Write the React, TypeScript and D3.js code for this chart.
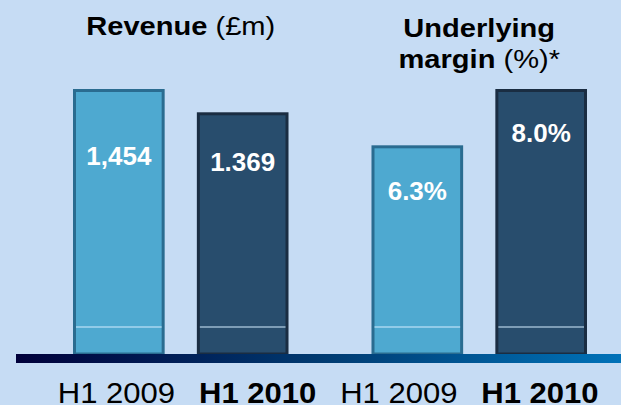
import React from "react";
import * as d3 from "d3";

const W = 621;
const H = 405;

// Data
const groups = ["Revenue", "Margin"];
const periods = ["H1 2009", "H1 2010"];
const revenueValues = [1454, 1369];
const revenueLabels = ["1,454", "1.369"];
const marginValues = [6.3, 8.0];
const marginLabels = ["6.3%", "8.0%"];
const xTickLabels = ["H1 2009", "H1 2010", "H1 2009", "H1 2010"];
const xTickBold = [false, true, false, true];

// Scales domains
const revenueDomain = [487, 1454];
const marginDomain = [0, 8];

const FONT = "'Liberation Sans', Arial, Helvetica, sans-serif";
const BG = "#C6DCF4";
const FILL = ["#4EA9D0", "#284D6D"];
const STROKE = ["#2A6C90", "#1A2D42"];
const labelDy = [76, 59, 55, 53];

function Stretch({ cx, sx, children }: { cx: number; sx: number; children: React.ReactNode }) {
  return <g transform={`translate(${cx},0) scale(${sx},1) translate(${-cx},0)`}>{children}</g>;
}

export default function App() {
  const baseY = 354;
  const topY = 89;
  const outer = d3.scaleBand<string>().domain(groups).range([73, 587]).paddingInner(0.278).paddingOuter(0);
  const inner = d3.scaleBand<string>().domain(periods).range([0, outer.bandwidth()]).paddingInner(0.26).paddingOuter(0);
  const yRev = d3.scaleLinear().domain(revenueDomain).range([baseY, topY]);
  const yMar = d3.scaleLinear().domain(marginDomain).range([baseY, topY]);
  const xLab = d3.scalePoint<number>().domain(d3.range(xTickLabels.length)).range([116.5, 540]);

  const bars: { x: number; w: number; y: number; label: string; i: number }[] = [];
  groups.forEach((g, gi) => {
    periods.forEach((p, pi) => {
      const v = gi === 0 ? revenueValues[pi] : marginValues[pi];
      const y = gi === 0 ? yRev(v) : yMar(v);
      bars.push({
        x: (outer(g) as number) + (inner(p) as number),
        w: inner.bandwidth(),
        y,
        label: gi === 0 ? revenueLabels[pi] : marginLabels[pi],
        i: pi,
      });
    });
  });

  const sw = 3;
  const g1c = (outer(groups[0]) as number) + outer.bandwidth() / 2;
  const g2c = (outer(groups[1]) as number) + outer.bandwidth() / 2;
  const titleSize = 25.5;
  const titleSx = 1.14;

  return (
    <svg
      width={W}
      height={H}
      style={{ position: "absolute", left: 0, top: 0, display: "block" }}
      fontFamily={FONT}
    >
      <defs>
        <linearGradient id="baseGrad" x1="0" x2="1" y1="0" y2="0">
          <stop offset="0" stopColor="#00003A" />
          <stop offset="0.5" stopColor="#003A70" />
          <stop offset="1" stopColor="#0072B8" />
        </linearGradient>
      </defs>
      <rect x={0} y={0} width={W} height={H} fill={BG} />

      {/* Titles */}
      <Stretch cx={g1c} sx={titleSx}>
        <text x={g1c} y={35} textAnchor="middle" fontSize={titleSize} fill="#000">
          <tspan fontWeight="bold">Revenue</tspan>
          <tspan> (£m)</tspan>
        </text>
      </Stretch>
      <Stretch cx={g2c} sx={titleSx}>
        <text x={g2c} y={37} textAnchor="middle" fontSize={titleSize} fill="#000" fontWeight="bold">
          Underlying
        </text>
        <text x={g2c} y={68} textAnchor="middle" fontSize={titleSize} fill="#000">
          <tspan fontWeight="bold">margin</tspan>
          <tspan> (%)*</tspan>
        </text>
      </Stretch>

      {/* Bars */}
      {bars.map((b, k) => (
        <g key={k}>
          <rect
            x={b.x + sw / 2}
            y={b.y + sw / 2}
            width={b.w - sw}
            height={baseY - b.y - sw / 2}
            fill={FILL[b.i]}
            stroke={STROKE[b.i]}
            strokeWidth={sw}
          />
          <line
            x1={b.x + sw}
            x2={b.x + b.w - sw}
            y1={327}
            y2={327}
            stroke="#D4EEFF"
            strokeWidth={1.2}
          />
          <Stretch cx={b.x + b.w / 2} sx={1.04}>
            <text
              x={b.x + b.w / 2}
              y={b.y + labelDy[k]}
              textAnchor="middle"
              fill="#FFFFFF"
              fontWeight="bold"
              fontSize={25}
            >
              {b.label}
            </text>
          </Stretch>
        </g>
      ))}

      {/* Baseline */}
      <rect x={16} y={354} width={W - 16} height={9} fill="url(#baseGrad)" />

      {/* X labels */}
      {xTickLabels.map((t, i) => (
        <Stretch key={i} cx={xLab(i) as number} sx={1.07}>
          <text
            x={xLab(i) as number}
            y={403}
            textAnchor="middle"
            fontSize={29}
            fontWeight={xTickBold[i] ? "bold" : "normal"}
            fill="#000"
          >
            {t}
          </text>
        </Stretch>
      ))}
    </svg>
  );
}
